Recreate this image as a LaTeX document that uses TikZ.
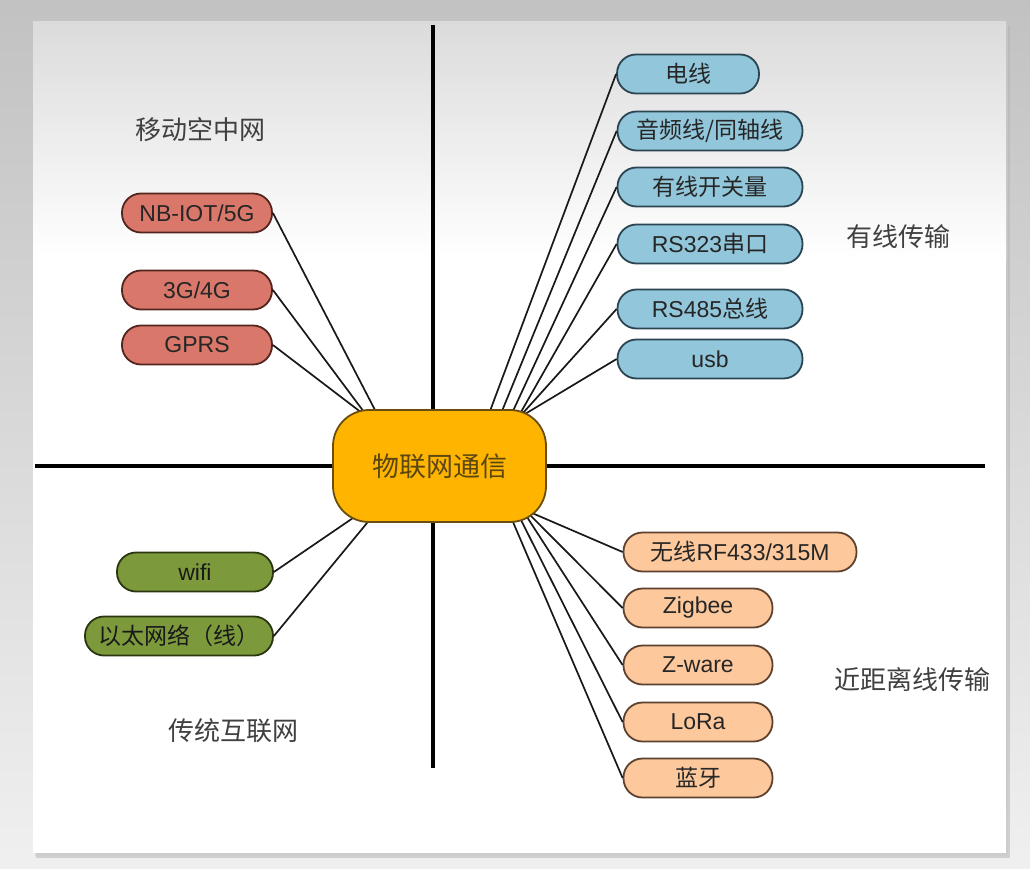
\documentclass[tikz,border=0pt]{standalone}
\usepackage{fontspec}
\setmainfont{Liberation Sans}
\newfontfamily\cjk{Noto Sans CJK SC}
\usepackage{xcolor}
\usetikzlibrary{calc}

\definecolor{hubfill}{HTML}{FFB400}
\definecolor{hubline}{HTML}{6A4E10}
\definecolor{hubtext}{HTML}{5A4712}
\definecolor{wiredfill}{HTML}{92C6DA}
\definecolor{wiredline}{HTML}{2A4452}
\definecolor{mobilefill}{HTML}{D9776A}
\definecolor{mobileline}{HTML}{52261E}
\definecolor{shortfill}{HTML}{FCC89C}
\definecolor{shortline}{HTML}{5E4230}
\definecolor{netfill}{HTML}{7C9A3C}
\definecolor{netline}{HTML}{2A3610}

\begin{document}
\begin{tikzpicture}[
    x=1pt, y=-1pt,
    leaf/.style={draw, line width=1.8pt, rounded corners=19pt, minimum height=39pt,
      inner sep=0pt, font=\fontsize{23}{23}\selectfont},
    wiredleaf/.style={leaf, fill=wiredfill, draw=wiredline, text=black!85, minimum width=185pt},
    mobileleaf/.style={leaf, fill=mobilefill, draw=mobileline, text=black!85, minimum width=150pt},
    shortleaf/.style={leaf, fill=shortfill, draw=shortline, text=black!85, minimum width=149pt},
    netleaf/.style={leaf, fill=netfill, draw=netline, text=black!90, minimum width=156pt},
    quadlabel/.style={font=\cjk\fontsize{26}{26}\selectfont, text=black!75},
    spoke/.style={line width=1.7pt, black!90, shorten >=-4pt},
    axis/.style={line width=4.5pt, black},
  ]
  \useasboundingbox (0,0) rectangle (1030,869);

  % ========= BACKGROUND =========
  \shade[top color=black!24, bottom color=black!6] (0,0) rectangle (1030,869);
  \fill[black!30, opacity=0.5] (36,26) rectangle (1010,858);
  \fill[black!20, opacity=0.5] (35,24) rectangle (1008,856);
  \fill[white] (33,22) rectangle (1006,853);
  \shade[top color=black!14, bottom color=white] (33,22) rectangle (1006,260);

  % Axes
  \draw[axis] (433,25) -- (433,768);
  \draw[axis] (35,466) -- (985,466);

  % Quadrant labels
  \node[quadlabel] (lblmobile) at (200,130) {移动空中网};
  \node[quadlabel] (lblwired) at (898,237) {有线传输};
  \node[quadlabel] (lblshort) at (912,680) {近距离线传输};
  \node[quadlabel] (lblnet) at (233,731) {传统互联网};

  % ========= WIRED (top right) =========
  \node[wiredleaf, minimum width=142pt] (power) at (688,74) {\cjk 电线};
  \node[wiredleaf] (audio) at (710,131) {\cjk 音频线/同轴线};
  \node[wiredleaf] (switch) at (710,187) {\cjk 有线开关量};
  \node[wiredleaf] (rsa) at (710,244) {RS323{\cjk 串口}};
  \node[wiredleaf] (rsb) at (710,309) {RS485{\cjk 总线}};
  \node[wiredleaf] (usb) at (710,359) {usb};

  % ========= MOBILE (top left) =========
  \node[mobileleaf] (nbiot) at (197,213) {NB-IOT/5G};
  \node[mobileleaf] (gsm) at (197,290) {3G/4G};
  \node[mobileleaf] (gprs) at (197,345) {GPRS};

  % ========= SHORT RANGE (bottom right) =========
  \node[shortleaf, minimum width=233pt] (rf) at (740,552) {{\cjk 无线}RF433/315M};
  \node[shortleaf] (zigbee) at (698,608) {Zigbee};
  \node[shortleaf] (zware) at (698,665) {Z-ware};
  \node[shortleaf] (lora) at (698,722) {LoRa};
  \node[shortleaf] (bt) at (698,778) {\cjk 蓝牙};

  % ========= INTERNET (bottom left) =========
  \node[netleaf] (wifi) at (195,572) {wifi};
  \node[netleaf, minimum width=188pt] (eth) at (179,636) {\cjk 以太网络（线）};

  % Spokes into the hub border
  \foreach \n/\x/\y in {power/490/411, audio/502/411, switch/513/411,
      rsa/521/412, rsb/523/413, usb/525/414,
      rf/532/513, zigbee/530/515, zware/527/517, lora/521/520, bt/513/522}
    \coordinate (hub-\n) at (\x,\y);
  \foreach \n/\x/\y in {nbiot/375/410, gsm/364/412, gprs/362/413,
      wifi/353/518, eth/367/523}
    \coordinate (hub-\n) at (\x,\y);

  \foreach \n in {power, audio, switch, rsa, rsb, usb, rf, zigbee, zware, lora, bt}
    \draw[spoke] (\n.west) -- (hub-\n);
  \foreach \n in {nbiot, gsm, gprs, wifi, eth}
    \draw[spoke] (\n.east) -- (hub-\n);

  % ========= HUB =========
  \node[draw=hubline, line width=1.8pt, fill=hubfill, rounded corners=36pt,
    minimum width=213pt, minimum height=112pt, text=hubtext,
    font=\cjk\fontsize{27}{27}\selectfont] (hub) at (439.5,466) {物联网通信};
\end{tikzpicture}
\end{document}
